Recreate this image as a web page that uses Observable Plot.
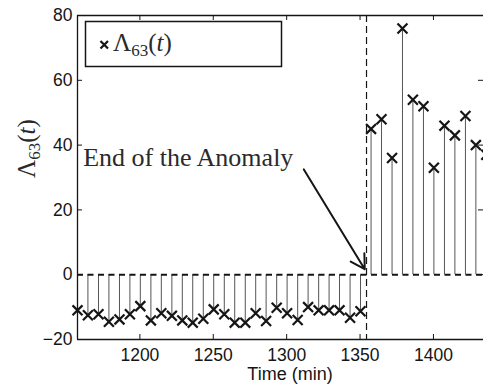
<!DOCTYPE html>
<html>
<head>
<meta charset="utf-8">
<script src="https://cdn.jsdelivr.net/npm/d3@7"></script>
<script src="https://cdn.jsdelivr.net/npm/@observablehq/plot@0.6"></script>
<style>
  html, body { margin: 0; padding: 0; background: white; }
  #chart { width: 483px; height: 386px; overflow: hidden; position: relative; }
</style>
</head>
<body>
<div id="chart"></div>
<script>
// ---- data ----
const times = [1157.5, 1164.6, 1171.8, 1178.9, 1186.1, 1193.2, 1200.3, 1207.5, 1214.6, 1221.8,
               1228.9, 1236.0, 1243.2, 1250.3, 1257.5, 1264.6, 1271.8, 1278.9, 1286.0, 1293.2,
               1300.3, 1307.5, 1314.6, 1321.8, 1328.9, 1336.0, 1343.2, 1350.3, 1357.5, 1364.6,
               1371.8, 1378.9, 1386.0, 1393.2, 1400.3, 1407.5, 1414.6, 1421.8, 1428.9, 1436.0];
const values = [-11, -12.5, -12.2, -14.5, -13.8, -12.2, -9.7, -14.1, -11.9, -12.7,
                -14.1, -14.8, -13.6, -10.7, -12.2, -14.8, -14.8, -11.9, -14.3, -10.2,
                -11.9, -14, -10, -11, -11, -11, -13.3, -11.3, 45, 48,
                36, 76, 54, 52, 33, 46, 43, 49, 40, 37];
const xTicks = [1200, 1250, 1300, 1350, 1400];
const yTicks = [-20, 0, 20, 40, 60, 80];
const xDomain = [1157.5, 1434.1];
const yDomain = [-20, 80];
const anomalyEnd = [1354.4];
const annotText = [{x: 1161.4, y: 36, text: "End of the Anomaly"}];
const annotArrow = [{x1: 1311.7, y1: 32.5, x2: 1353.2, y2: 1.7}];
const seriesName = "63";

const data = times.map((t, i) => ({t, v: values[i]}));

const W = 483, H = 386, mL = 77, mR = 0, mT = 15, mB = 47;
const plotW = W - mL - mR, plotH = H - mT - mB;
const ink = "#151515";
const serif = "'Liberation Serif', 'DejaVu Serif', serif";

const chart = Plot.plot({
  width: W, height: H,
  marginLeft: mL, marginRight: mR, marginTop: mT, marginBottom: mB,
  style: {fontFamily: "'Liberation Sans', Arial, sans-serif", fontSize: "17.5px", color: ink, background: "white", overflow: "hidden"},
  x: {domain: xDomain, ticks: xTicks, tickSize: 0, tickPadding: 9, label: null, tickFormat: d => String(d)},
  y: {domain: yDomain, ticks: yTicks, tickSize: 0, tickPadding: 5, label: null},
  marks: [
    Plot.ruleX(data, {x: "t", y1: 0, y2: "v", stroke: "#555", strokeWidth: 1}),
    Plot.ruleY([0], {stroke: ink, strokeWidth: 2, strokeDasharray: "6,4.5"}),
    Plot.ruleX(anomalyEnd, {stroke: ink, strokeWidth: 1.2, strokeDasharray: "7,4"}),
    Plot.dot(data, {x: "t", y: "v", symbol: "times", r: 4.6, stroke: ink, strokeWidth: 2.2}),
    // frame (left, top, bottom)
    Plot.ruleX([xDomain[0]], {stroke: ink, strokeWidth: 1.3}),
    Plot.ruleY([yDomain[1]], {stroke: ink, strokeWidth: 1.3}),
    Plot.ruleY([yDomain[0]], {stroke: ink, strokeWidth: 1.3}),
    // inward ticks
    Plot.tickX(xTicks, {x: d => d, insetTop: plotH - 5, stroke: ink}),
    Plot.tickX(xTicks, {x: d => d, insetBottom: plotH - 5, stroke: ink}),
    Plot.tickY(yTicks, {y: d => d, insetRight: plotW - 5, stroke: ink}),
    Plot.tickY(yTicks, {y: d => d, insetLeft: plotW - 5, stroke: ink}),
    // annotation
    Plot.text(annotText, {x: "x", y: "y", text: "text", textAnchor: "start", fontFamily: serif, fontSize: 26, fill: "#2a2a2a"}),
    Plot.arrow(annotArrow, {x1: "x1", y1: "y1", x2: "x2", y2: "y2", stroke: ink, strokeWidth: 2, headLength: 12})
  ]
});
document.getElementById("chart").appendChild(chart);

const svg = d3.select(chart);

// x-axis title
svg.append("text")
  .attr("x", 290).attr("y", 380)
  .attr("text-anchor", "middle")
  .attr("font-family", "'Liberation Sans', Arial, sans-serif")
  .attr("font-size", 18).attr("fill", ink)
  .text("Time (min)");

// helper to write Λ_63(t)
function lambdaLabel(sel) {
  sel.append("tspan").text("Λ");
  sel.append("tspan").attr("font-size", 17).attr("dy", 5).text(seriesName);
  sel.append("tspan").attr("dy", -5).text("(");
  sel.append("tspan").attr("font-style", "italic").text("t");
  sel.append("tspan").text(")");
}

// y-axis title
const yl = svg.append("text")
  .attr("transform", "translate(35,148.5) rotate(-90)")
  .attr("text-anchor", "middle")
  .attr("font-family", serif).attr("font-size", 25).attr("fill", "#2a2a2a");
lambdaLabel(yl);

// legend
const lg = svg.append("g");
lg.append("rect").attr("x", 85.5).attr("y", 21.5).attr("width", 196).attr("height", 45)
  .attr("fill", "white").attr("stroke", ink).attr("stroke-width", 1.5);
lg.append("path").attr("d", "M100.5,41 L108,48.5 M108,41 L100.5,48.5")
  .attr("stroke", ink).attr("stroke-width", 2.2).attr("fill", "none");
const lt = lg.append("text").attr("x", 113).attr("y", 51)
  .attr("text-anchor", "start")
  .attr("font-family", serif).attr("font-size", 25).attr("fill", "#2a2a2a");
lambdaLabel(lt);
</script>
</body>
</html>
